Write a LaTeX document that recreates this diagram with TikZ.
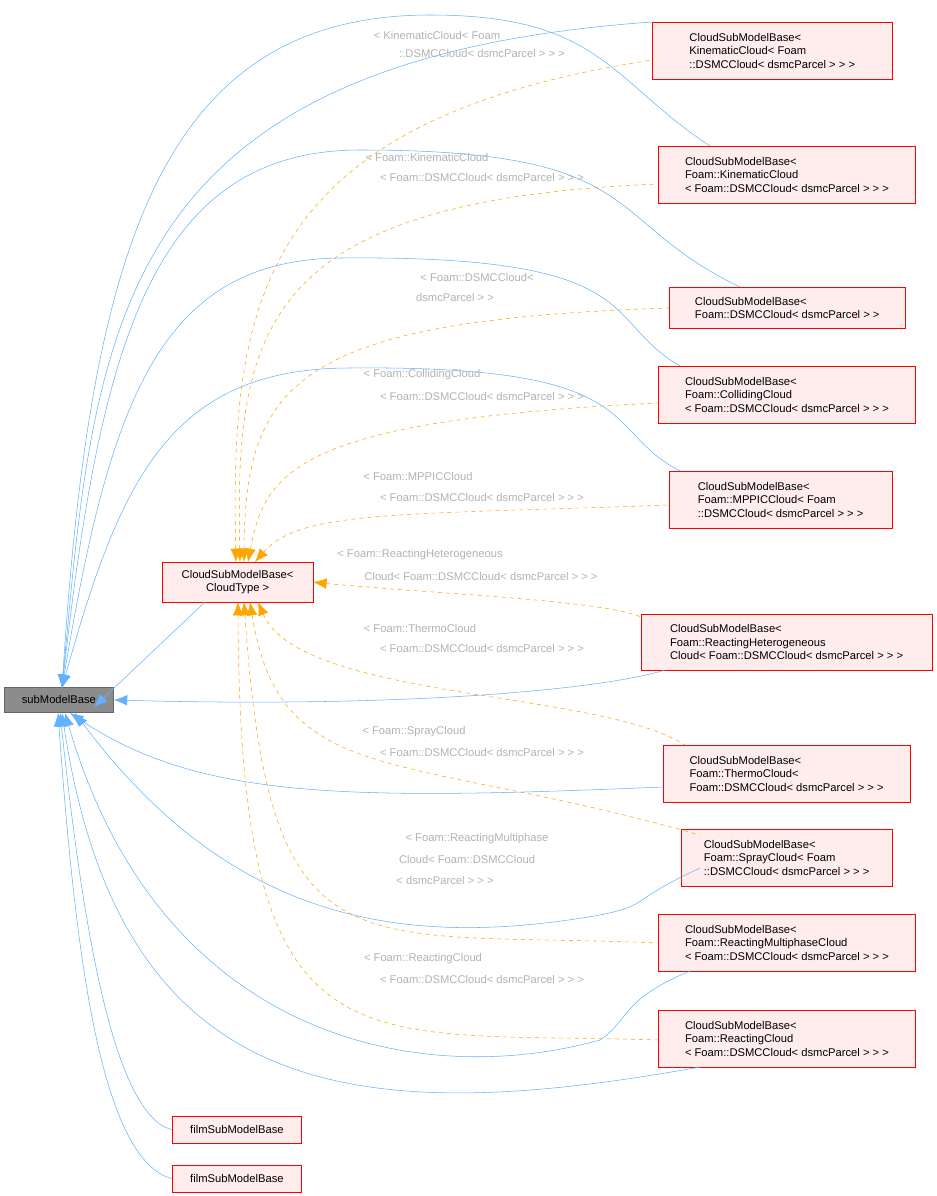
\documentclass[tikz,border=0pt]{standalone}
\usepackage{fontspec}
\setmainfont{Liberation Sans}
\usetikzlibrary{arrows.meta}

\definecolor{inhblue}{RGB}{99,178,255}
\definecolor{tplorange}{RGB}{255,165,0}

\tikzset{
  box/.style={draw=red, fill=red!7, font=\fontsize{8.4}{10}\selectfont, align=left, inner sep=4pt, anchor=north west},
  basebox/.style={draw=black!60, fill=black!45, font=\fontsize{8.4}{10}\selectfont, inner sep=2pt, anchor=north west},
  inh/.style={draw=inhblue, {Latex[length=10pt,width=8pt]}-},
  tpl/.style={draw=tplorange, dashed, {Latex[length=10pt,width=8pt]}-},
  lbl/.style={text=black!30, font=\fontsize{8.4}{10}\selectfont},
}

\begin{document}
\begin{tikzpicture}[x=0.75pt, y=-0.75pt]
    \useasboundingbox (0,0) rectangle (937,1196);

    % nodes
    \node[basebox, minimum width=82pt, minimum height=19pt] (sub) at (4,687) {subModelBase};
    \node[box, align=center, minimum width=113pt, minimum height=30pt] (ct) at (162,562) {CloudSubModelBase\textless\\CloudType \textgreater};
    \node[box, minimum width=180pt, minimum height=43pt] (kin) at (652,22) {CloudSubModelBase\textless\\ KinematicCloud\textless{} Foam\\::DSMCCloud\textless{} dsmcParcel \textgreater{} \textgreater{} \textgreater};
    \node[box, minimum width=193pt, minimum height=43pt] (fkin) at (658,146) {CloudSubModelBase\textless\\ Foam::KinematicCloud\\\textless{} Foam::DSMCCloud\textless{} dsmcParcel \textgreater{} \textgreater{} \textgreater};
    \node[box, minimum width=177pt, minimum height=31pt] (dsmc) at (669,287) {CloudSubModelBase\textless\\ Foam::DSMCCloud\textless{} dsmcParcel \textgreater{} \textgreater};
    \node[box, minimum width=193pt, minimum height=43pt] (coll) at (658,366) {CloudSubModelBase\textless\\ Foam::CollidingCloud\\\textless{} Foam::DSMCCloud\textless{} dsmcParcel \textgreater{} \textgreater{} \textgreater};
    \node[box, minimum width=167pt, minimum height=43pt] (mppic) at (669,471) {CloudSubModelBase\textless\\ Foam::MPPICCloud\textless{} Foam\\::DSMCCloud\textless{} dsmcParcel \textgreater{} \textgreater{} \textgreater};
    \node[box, minimum width=218pt, minimum height=42pt] (rhet) at (641,614) {CloudSubModelBase\textless\\ Foam::ReactingHeterogeneous\\Cloud\textless{} Foam::DSMCCloud\textless{} dsmcParcel \textgreater{} \textgreater{} \textgreater};
    \node[box, minimum width=185pt, minimum height=43pt] (thermo) at (663,745) {CloudSubModelBase\textless\\ Foam::ThermoCloud\textless\\ Foam::DSMCCloud\textless{} dsmcParcel \textgreater{} \textgreater{} \textgreater};
    \node[box, minimum width=158pt, minimum height=43pt] (spray) at (681,829) {CloudSubModelBase\textless\\ Foam::SprayCloud\textless{} Foam\\::DSMCCloud\textless{} dsmcParcel \textgreater{} \textgreater{} \textgreater};
    \node[box, minimum width=193pt, minimum height=43pt] (rmult) at (658,914) {CloudSubModelBase\textless\\ Foam::ReactingMultiphaseCloud\\\textless{} Foam::DSMCCloud\textless{} dsmcParcel \textgreater{} \textgreater{} \textgreater};
    \node[box, minimum width=193pt, minimum height=43pt] (react) at (658,1010) {CloudSubModelBase\textless\\ Foam::ReactingCloud\\\textless{} Foam::DSMCCloud\textless{} dsmcParcel \textgreater{} \textgreater{} \textgreater};
    \node[box, minimum width=97pt, minimum height=20pt, inner sep=2pt] (filmA) at (172,1116) {filmSubModelBase};
    \node[box, minimum width=97pt, minimum height=20pt, inner sep=2pt] (filmB) at (172,1165) {filmSubModelBase};

    \coordinate (s) at (62,688);

    % inheritance
    \draw[inh] (s) .. controls (95,330) and (110,60) .. (kin.north west);
    \draw[inh] (s) .. controls (90,250) and (160,15) .. (430,15) .. controls (600,15) and (610,80) .. (710,146);
    \draw[inh] (s) .. controls (100,350) and (150,150) .. (360,150) .. controls (650,150) and (600,220) .. (740,287);
    \draw[inh] (s) .. controls (110,400) and (160,260) .. (340,258) .. controls (650,255) and (600,320) .. (680,366);
    \draw[inh] (s) .. controls (120,480) and (170,368) .. (350,368) .. controls (650,365) and (600,430) .. (680,471);
    \draw[inh] (94,707) -- (205,602);
    \draw[inh] (sub.east) .. controls (400,708) and (600,690) .. (665,670);
    \draw[inh] (70,713) .. controls (200,800) and (350,800) .. (663,787);
    \draw[inh] (75,713) .. controls (230,920) and (400,950) .. (600,915) .. controls (650,905) and (630,900) .. (700,868);
    \draw[inh] (65,713) .. controls (160,1040) and (420,1090) .. (600,1040) .. controls (630,1020) and (620,1000) .. (690,971);
    \draw[inh] (62,713) .. controls (120,1100) and (350,1130) .. (700,1067);
    \draw[inh] (60,713) .. controls (80,900) and (110,1115) .. (filmA.west);
    \draw[inh] (58,713) .. controls (75,950) and (100,1160) .. (filmB.west);

    % template instances
    \draw[tpl] (236,562) .. controls (230,300) and (260,120) .. (652,60);
    \draw[tpl] (240,562) .. controls (235,330) and (260,200) .. (658,184);
    \draw[tpl] (244,562) .. controls (245,380) and (300,320) .. (669,308);
    \draw[tpl] (248,562) .. controls (265,470) and (300,420) .. (658,403);
    \draw[tpl] (255,562) .. controls (300,510) and (400,515) .. (669,505);
    \draw[tpl] (ct.east) .. controls (450,595) and (600,600) .. (641,617);
    \draw[tpl] (258,602) .. controls (300,700) and (600,690) .. (685,745);
    \draw[tpl] (250,602) .. controls (280,790) and (400,750) .. (700,835);
    \draw[tpl] (244,602) .. controls (270,980) and (350,930) .. (658,943);
    \draw[tpl] (238,602) .. controls (240,1080) and (350,1030) .. (658,1040);

    % labels
    \node[lbl] at (437,35) {\textless{} KinematicCloud\textless{} Foam};
    \node[lbl] at (482,53) {::DSMCCloud\textless{} dsmcParcel \textgreater{} \textgreater{} \textgreater};
    \node[lbl] at (427,157) {\textless{} Foam::KinematicCloud};
    \node[lbl] at (482,177) {\textless{} Foam::DSMCCloud\textless{} dsmcParcel \textgreater{} \textgreater{} \textgreater};
    \node[lbl] at (477,277) {\textless{} Foam::DSMCCloud\textless};
    \node[lbl] at (455,297) {dsmcParcel \textgreater{} \textgreater};
    \node[lbl] at (422,375) {\textless{} Foam::CollidingCloud};
    \node[lbl] at (482,396) {\textless{} Foam::DSMCCloud\textless{} dsmcParcel \textgreater{} \textgreater{} \textgreater};
    \node[lbl] at (418,476) {\textless{} Foam::MPPICCloud};
    \node[lbl] at (482,497) {\textless{} Foam::DSMCCloud\textless{} dsmcParcel \textgreater{} \textgreater{} \textgreater};
    \node[lbl] at (420,555) {\textless{} Foam::ReactingHeterogeneous};
    \node[lbl] at (481,576) {Cloud\textless{} Foam::DSMCCloud\textless{} dsmcParcel \textgreater{} \textgreater{} \textgreater};
    \node[lbl] at (420,628) {\textless{} Foam::ThermoCloud};
    \node[lbl] at (482,648) {\textless{} Foam::DSMCCloud\textless{} dsmcParcel \textgreater{} \textgreater{} \textgreater};
    \node[lbl] at (414,732) {\textless{} Foam::SprayCloud};
    \node[lbl] at (482,752) {\textless{} Foam::DSMCCloud\textless{} dsmcParcel \textgreater{} \textgreater{} \textgreater};
    \node[lbl] at (477,839) {\textless{} Foam::ReactingMultiphase};
    \node[lbl] at (467,859) {Cloud\textless{} Foam::DSMCCloud};
    \node[lbl] at (445,880) {\textless{} dsmcParcel \textgreater{} \textgreater{} \textgreater};
    \node[lbl] at (423,959) {\textless{} Foam::ReactingCloud};
    \node[lbl] at (482,979) {\textless{} Foam::DSMCCloud\textless{} dsmcParcel \textgreater{} \textgreater{} \textgreater};
\end{tikzpicture}
\end{document}
